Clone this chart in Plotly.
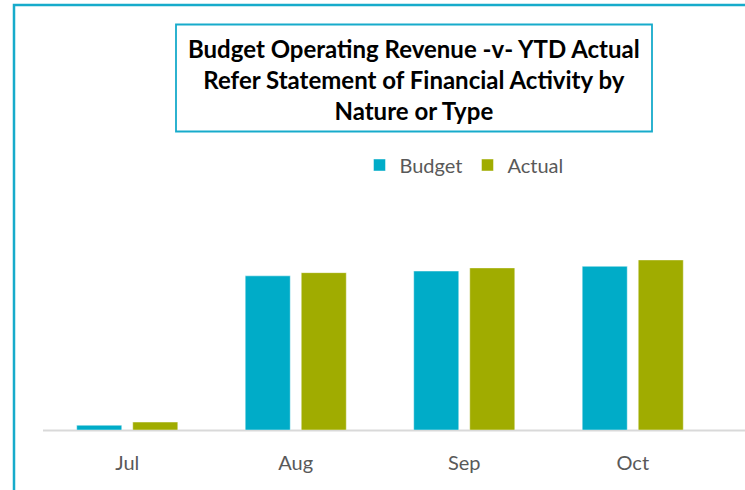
import plotly.graph_objects as go

# Monthly operating revenue, year to date ($ millions)
months = ["Jul", "Aug", "Sep", "Oct"]
budget = [0.3, 9.7, 10.0, 10.3]
actual = [0.5, 9.9, 10.2, 10.7]

series_names = ["Budget", "Actual"]
series_colors = ["#00ACC8", "#A0AC00"]
title_lines = [
    "Budget Operating Revenue -v- YTD Actual",
    "Refer Statement of Financial Activity by",
    "Nature or Type",
]

W, H = 745, 490
L, R, T, B = 43, 28, 190, 60
PW, PH = W - L - R, H - T - B


def px_x(x):
    return (x - L) / PW


def px_y(y):
    return (H - B - y) / PH


teal = "#17ABCB"

fig = go.Figure()
for name, vals, color in zip(series_names, [budget, actual], series_colors):
    fig.add_trace(go.Bar(
        x=months, y=vals, name=name,
        marker=dict(color=color, line=dict(color="rgba(255,255,255,0.45)", width=1)),
    ))

fig.update_layout(
    width=W, height=H,
    margin=dict(l=L, r=R, t=T, b=B),
    paper_bgcolor="white", plot_bgcolor="white",
    barmode="group", bargap=0.335, bargroupgap=0.196,
    font=dict(family="Lato, Open Sans, sans-serif", color="#595959"),
    showlegend=True,
    legend=dict(
        orientation="h", x=px_x(464), xanchor="center",
        y=px_y(165), yanchor="middle",
        font=dict(size=20, color="#595959"),
        itemwidth=30, traceorder="normal",
        bgcolor="rgba(0,0,0,0)",
    ),
    xaxis=dict(
        showline=False, showgrid=False, zeroline=False,
        ticks="", ticklabelstandoff=19,
        tickfont=dict(size=20, color="#595959"),
    ),
    yaxis=dict(
        range=[0, 15.1], visible=False, showgrid=False, zeroline=False,
    ),
)

# Outer chart frame (left and top edges visible)
fig.add_shape(type="rect", xref="paper", yref="paper",
              x0=px_x(14), x1=px_x(W + 20), y0=px_y(H + 20), y1=px_y(5),
              line=dict(color=teal, width=2.5), layer="below")

# Category axis baseline
fig.add_shape(type="line", xref="paper", yref="paper",
              x0=0, x1=px_x(W + 5), y0=px_y(430.5), y1=px_y(430.5),
              line=dict(color="#D9D9D9", width=2), layer="below")

# Title box
fig.add_shape(type="rect", xref="paper", yref="paper",
              x0=px_x(176), x1=px_x(652), y0=px_y(131.5), y1=px_y(24.5),
              line=dict(color=teal, width=1.8), fillcolor="white")

fig.add_annotation(
    xref="paper", yref="paper",
    x=px_x(414), y=px_y(79), xanchor="center", yanchor="middle",
    text="<br>".join(f"<b>{t}</b>" for t in title_lines),
    showarrow=False, align="center",
    font=dict(family="Lato, Open Sans, sans-serif", size=24, color="#000000"),
)

fig.write_html("out.html")
